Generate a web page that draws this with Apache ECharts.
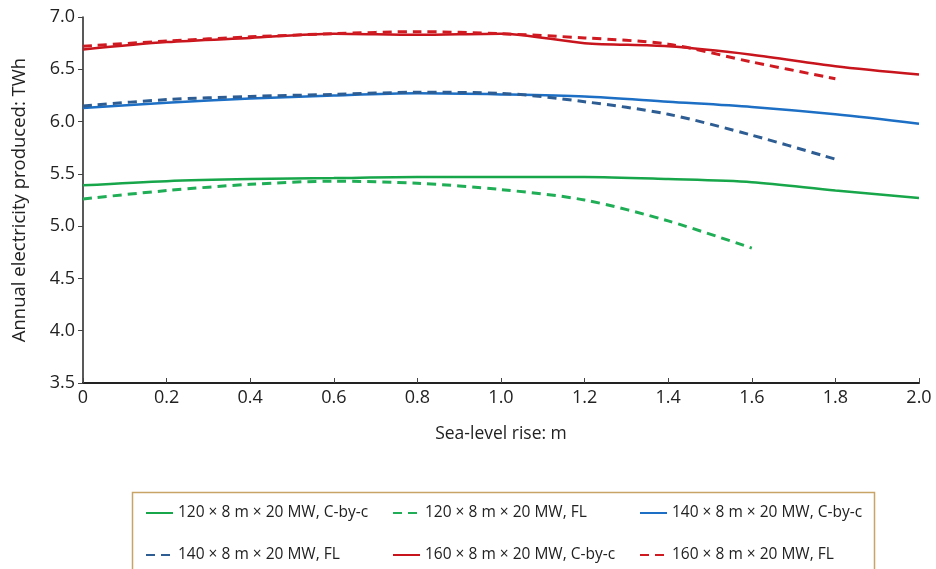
<!DOCTYPE html>
<html>
<head>
<meta charset="utf-8">
<script src="https://cdn.jsdelivr.net/npm/echarts@6/dist/echarts.min.js"></script>
<style>
  html, body { margin: 0; padding: 0; background: #fff; }
  #chart { width: 936px; height: 569px; }
</style>
</head>
<body>
<div id="chart"></div>
<script>
// sea-level rise (m)
var rise = [0, 0.2, 0.4, 0.6, 0.8, 1.0, 1.2, 1.4, 1.6, 1.8, 2.0];

// annual electricity produced (TWh)
var g120cbc = [5.39, 5.43, 5.45, 5.46, 5.47, 5.47, 5.47, 5.45, 5.42, 5.34, 5.27];
var g120fl  = [5.26, 5.34, 5.40, 5.43, 5.41, 5.35, 5.25, 5.05, 4.79];
var b140cbc = [6.13, 6.18, 6.22, 6.25, 6.27, 6.26, 6.24, 6.19, 6.14, 6.07, 5.98];
var b140fl  = [6.15, 6.21, 6.24, 6.26, 6.28, 6.27, 6.19, 6.07, 5.87, 5.64];
var r160cbc = [6.69, 6.76, 6.80, 6.84, 6.83, 6.84, 6.75, 6.72, 6.64, 6.53, 6.45];
var r160fl  = [6.72, 6.77, 6.81, 6.84, 6.86, 6.84, 6.80, 6.74, 6.57, 6.41];

var names = [
  "120 × 8 m × 20 MW, C-by-c",
  "120 × 8 m × 20 MW, FL",
  "140 × 8 m × 20 MW, C-by-c",
  "140 × 8 m × 20 MW, FL",
  "160 × 8 m × 20 MW, C-by-c",
  "160 × 8 m × 20 MW, FL"
];

function pairs(vals) {
  var out = [];
  for (var i = 0; i < vals.length; i++) {
    out.push([rise[i], vals[i]]);
  }
  return out;
}

function mkSeries(name, vals, color, dashed) {
  return {
    name: name,
    type: "line",
    data: pairs(vals),
    symbol: "none",
    smooth: 0.3,
    lineStyle: {
      color: color,
      width: dashed ? 3 : 2.5,
      type: dashed ? [9, 6] : "solid"
    },
    itemStyle: { color: color }
  };
}

var font = "'Open Sans', 'Noto Sans', sans-serif";

var legendBase = {
  orient: "vertical",
  top: 500,
  itemWidth: 27,
  itemHeight: 14,
  itemGap: 26,
  itemStyle: { opacity: 0 },
  textStyle: { fontSize: 15.5, color: "#222", fontFamily: font }
};

var myChart = echarts.init(document.getElementById("chart"));
var option = {
  backgroundColor: "#fff",
  animation: false,
  grid: { left: 83, right: 17, top: 17, bottom: 186 },
  xAxis: {
    type: "value",
    min: 0,
    max: 2,
    interval: 0.2,
    name: "Sea-level rise: m",
    nameLocation: "middle",
    nameGap: 42,
    nameTextStyle: { fontSize: 17.5, color: "#222", fontFamily: font },
    axisLine: { lineStyle: { color: "#222", width: 2 } },
    axisTick: { inside: true, length: 5, lineStyle: { color: "#444" } },
    axisLabel: {
      fontSize: 18,
      color: "#222",
      fontFamily: font,
      margin: 6,
      formatter: function (v) { return v === 0 ? "0" : v.toFixed(1); }
    },
    splitLine: { show: false }
  },
  yAxis: {
    type: "value",
    min: 3.5,
    max: 7,
    interval: 0.5,
    name: "Annual electricity produced: TWh",
    nameLocation: "middle",
    nameGap: 54,
    nameTextStyle: { fontSize: 18.5, color: "#222", fontFamily: font },
    axisLine: { show: true, lineStyle: { color: "#222", width: 1.5 } },
    axisTick: { show: true, length: 5, lineStyle: { color: "#444" } },
    axisLabel: {
      fontSize: 18,
      color: "#222",
      fontFamily: font,
      margin: 8,
      formatter: function (v) { return v.toFixed(1); }
    },
    splitLine: { show: false }
  },
  graphic: [
    {
      type: "rect",
      left: 130,
      top: 490,
      shape: { width: 742, height: 100 },
      style: { fill: "none", stroke: "#c9a467", lineWidth: 1.5 }
    }
  ],
  legend: [
    Object.assign({ left: 140, data: [names[0], names[3]] }, legendBase),
    Object.assign({ left: 387, data: [names[1], names[4]] }, legendBase),
    Object.assign({ left: 634, data: [names[2], names[5]] }, legendBase)
  ],
  series: [
    mkSeries(names[0], g120cbc, "#17a64a", false),
    mkSeries(names[1], g120fl, "#1fae55", true),
    mkSeries(names[2], b140cbc, "#1c6fc4", false),
    mkSeries(names[3], b140fl, "#2d5d93", true),
    mkSeries(names[4], r160cbc, "#c8141c", false),
    mkSeries(names[5], r160fl, "#d01a22", true)
  ]
};
myChart.setOption(option);
</script>
</body>
</html>
